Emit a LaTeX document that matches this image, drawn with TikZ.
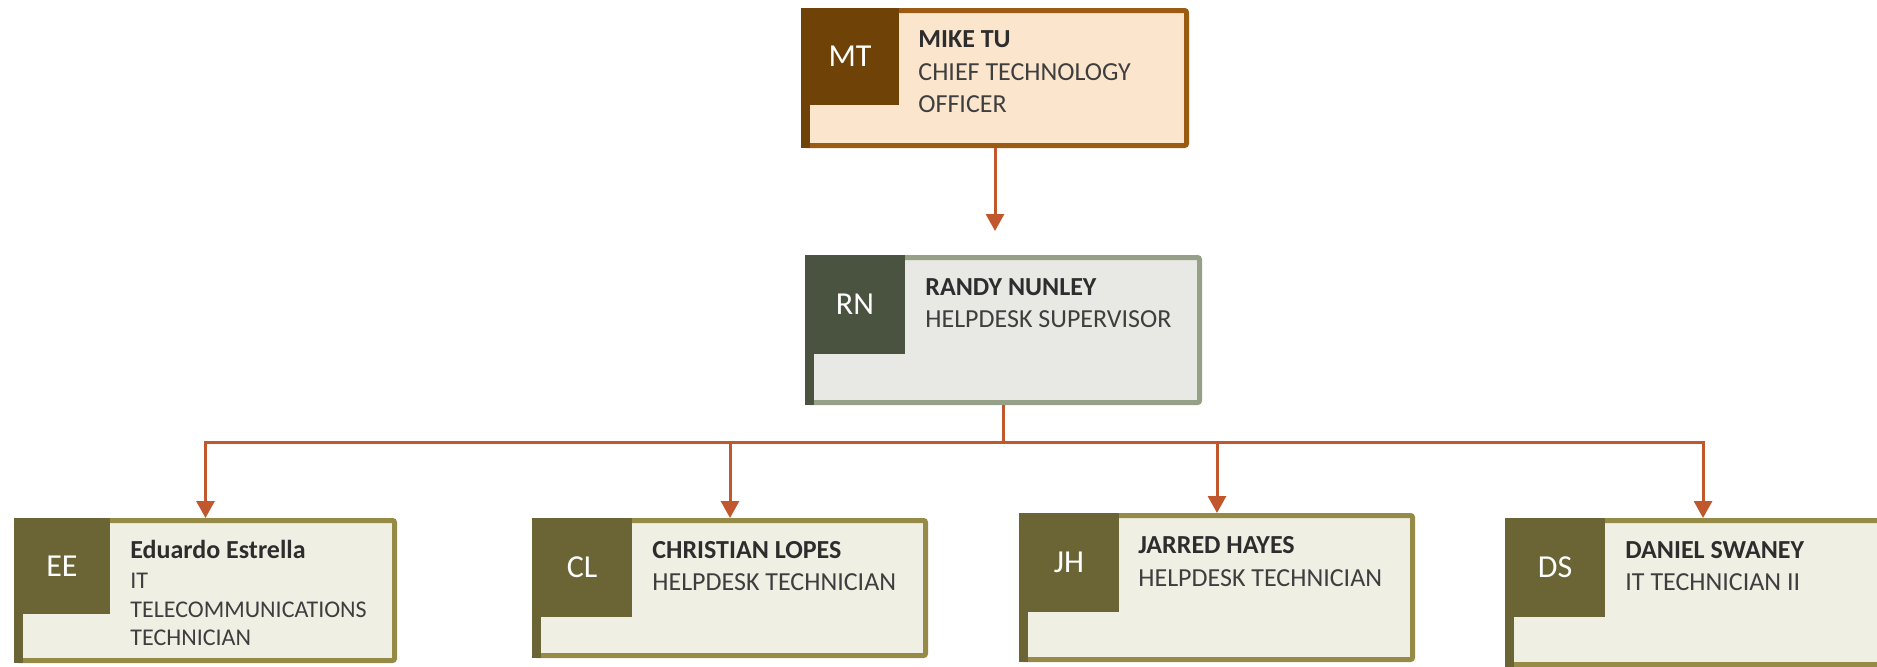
\documentclass[tikz,border=0pt]{standalone}
\usepackage{fontspec}
\setmainfont{Carlito}
\usetikzlibrary{arrows.meta}

% palette per tier: dark (initials + left bar), fill, border line
\definecolor{mtdark}{RGB}{111,66,8}
\definecolor{mtfill}{RGB}{251,230,205}
\definecolor{mtline}{RGB}{156,91,18}
\definecolor{rndark}{RGB}{74,82,64}
\definecolor{rnfill}{RGB}{232,233,228}
\definecolor{rnline}{RGB}{150,160,135}
\definecolor{tedark}{RGB}{107,101,53}
\definecolor{tefill}{RGB}{240,239,228}
\definecolor{teline}{RGB}{150,139,70}
\definecolor{linkcol}{RGB}{192,87,45}
\definecolor{txtname}{RGB}{45,45,45}
\definecolor{txttitle}{RGB}{62,62,62}

\tikzset{
  card/.style={draw=#1line, fill=#1fill, line width=2.5pt, rounded corners=1pt, inner sep=0pt},
  initials/.style={fill=#1dark, text=white, inner sep=0pt, outer sep=0pt,
    font=\fontsize{16}{16}\selectfont, text depth=0pt, anchor=north west},
  nameline/.style={anchor=base west, inner sep=0pt, text=txtname,
    font=\fontsize{13}{15}\selectfont\bfseries},
  titleline/.style={anchor=base west, inner sep=0pt, text=txttitle,
    font=\fontsize{13}{15}\selectfont},
  smalltitle/.style={titleline, font=\fontsize{12}{14}\selectfont},
  linkline/.style={draw=linkcol, line width=1.5pt},
  link/.style={linkline, -{Triangle[width=9pt,length=8.5pt]}},
}

% #1 name, #2 tier, #3 left, #4 top, #5 right, #6 bottom, #7 initials, #8 square width, #9 square height
\newcommand\orgcard[9]{%
  \node[card=#2, minimum width={(#5-#3-5)*0.5pt}, minimum height={(#6-#4-5)*0.5pt}]
    (#1) at ({(#3+#5)/2},{(#4+#6)/2}) {};
  \fill[#2dark] (#3,#4) rectangle ({#3+9},#6);
  \node[initials=#2, minimum width={#8*0.5pt}, minimum height={#9*0.5pt}]
    (#1-ini) at (#3,#4) {#7};
}

\begin{document}
\begin{tikzpicture}[x=0.5pt, y=-0.5pt]
  \useasboundingbox (0,0) rectangle (1877,666);
  \clip (0,0) rectangle (1877,666);

  % cards
  \orgcard{mt}{mt}{801}{8}{1189}{148}{MT}{98}{97}
  \orgcard{rn}{rn}{805}{255}{1202}{405}{RN}{100}{99}
  \orgcard{ee}{te}{14}{518}{397}{663}{EE}{96}{96}
  \orgcard{cl}{te}{532}{518}{928}{658}{CL}{100}{99}
  \orgcard{jh}{te}{1019}{513}{1415}{662}{JH}{100}{99}
  \orgcard{ds}{te}{1505}{518}{1901}{667}{DS}{100}{99}

  % names and titles
  \node[nameline]  (mt-name)  at (918,47)  {MIKE TU};
  \node[titleline] (mt-t1)    at (918,80)  {CHIEF TECHNOLOGY};
  \node[titleline] (mt-t2)    at (918,112) {OFFICER};

  \node[nameline]  (rn-name)  at (925,295) {RANDY NUNLEY};
  \node[titleline] (rn-t1)    at (925,327) {HELPDESK SUPERVISOR};

  \node[nameline]   (ee-name) at (130,558) {Eduardo Estrella};
  \node[smalltitle] (ee-t1)   at (130,588) {IT};
  \node[smalltitle] (ee-t2)   at (130,617) {TELECOMMUNICATIONS};
  \node[smalltitle] (ee-t3)   at (130,645) {TECHNICIAN};

  \node[nameline]  (cl-name)  at (652,558) {CHRISTIAN LOPES};
  \node[titleline] (cl-t1)    at (652,590) {HELPDESK TECHNICIAN};

  \node[nameline]  (jh-name)  at (1138,553) {JARRED HAYES};
  \node[titleline] (jh-t1)    at (1138,586) {HELPDESK TECHNICIAN};

  \node[nameline]  (ds-name)  at (1625,558) {DANIEL SWANEY};
  \node[titleline] (ds-t1)    at (1625,590) {IT TECHNICIAN II};

  % reporting lines
  \draw[link, shorten >=12pt] (mt.south) -- (mt.south |- rn.north);
  \path (rn.south) ++(0,37) coordinate (bus);
  \draw[linkline] (rn.south) -- (bus);
  \draw[link] (bus) -| (ee.north);
  \draw[link] (bus) -| (cl.north);
  \draw[link] (bus) -| (jh.north);
  \draw[link] (bus) -| (ds.north);
\end{tikzpicture}
\end{document}
